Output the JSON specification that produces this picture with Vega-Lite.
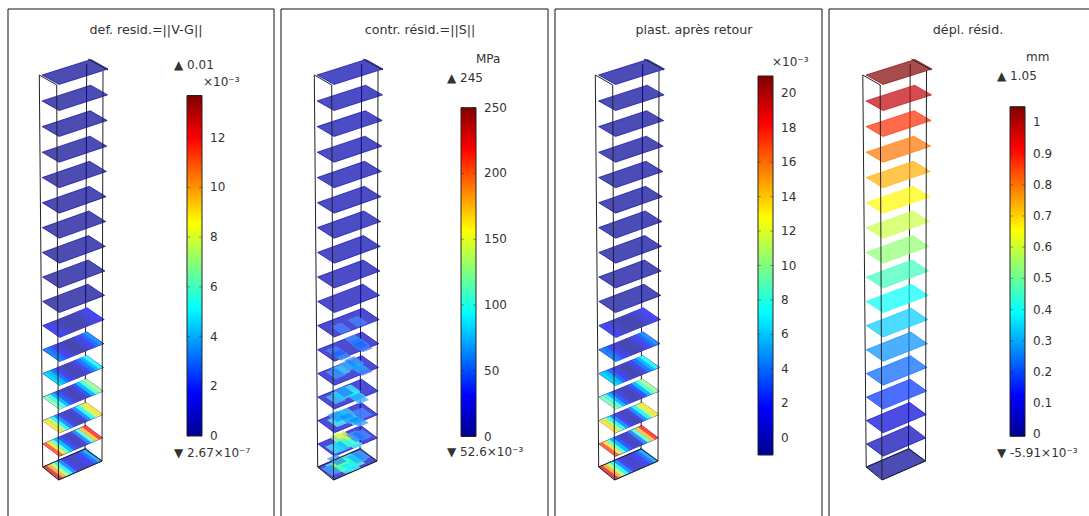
{"$schema":"https://vega.github.io/schema/vega-lite/v6.json","padding":{"left":7,"top":8,"right":0,"bottom":0},"autosize":{"type":"pad"},"background":"white","spacing":7,"bounds":"flush","resolve":{"scale":{"fill":"independent","stroke":"independent","shape":"independent"}},"config":{"view":{"stroke":null},"text":{"font":"DejaVu Sans"}},
"datasets":{
"slices":[{"slice":0,"def":0.05,"contr":8,"plast":-0.8,"depl":1.05},{"slice":1,"def":0.05,"contr":8,"plast":-0.8,"depl":0.98},{"slice":2,"def":0.05,"contr":8,"plast":-0.8,"depl":0.9},{"slice":3,"def":0.05,"contr":8,"plast":-0.8,"depl":0.81},{"slice":4,"def":0.05,"contr":8,"plast":-0.8,"depl":0.74},{"slice":5,"def":0.05,"contr":8,"plast":-0.8,"depl":0.66},{"slice":6,"def":0.05,"contr":8,"plast":-0.8,"depl":0.6},{"slice":7,"def":0.05,"contr":8,"plast":-0.8,"depl":0.54},{"slice":8,"def":0.05,"contr":10,"plast":-0.8,"depl":0.47},{"slice":9,"def":0.05,"contr":11,"plast":-0.8,"depl":0.4},{"slice":10,"def":0.05,"contr":13,"plast":-0.8,"depl":0.33},{"slice":11,"def":0.05,"contr":14,"plast":-0.8,"depl":0.27},{"slice":12,"def":0.05,"contr":15,"plast":-0.8,"depl":0.21},{"slice":13,"def":0.05,"contr":15,"plast":-0.8,"depl":0.15},{"slice":14,"def":0.05,"contr":16,"plast":-0.8,"depl":0.08},{"slice":15,"def":0.05,"contr":17,"plast":-0.8,"depl":0.04},{"slice":16,"def":0.05,"contr":17,"plast":-0.8,"depl":0}],
"strips":[
{"slice":10,"u":0.04,"def":1.6,"plast":1.6},{"slice":10,"u":0.13,"def":1.3,"plast":1.1},{"slice":10,"u":0.21,"def":0.8,"plast":0.3},{"slice":10,"u":0.29,"def":0.4,"plast":-0.4},{"slice":10,"u":0.38,"def":0.1,"plast":-0.8},{"slice":10,"u":0.46,"def":0.1,"plast":-0.8},{"slice":10,"u":0.54,"def":0.1,"plast":-0.8},{"slice":10,"u":0.63,"def":0.2,"plast":-0.7},{"slice":10,"u":0.71,"def":0.4,"plast":-0.4},{"slice":10,"u":0.79,"def":0.8,"plast":0.3},{"slice":10,"u":0.88,"def":1.2,"plast":0.9},{"slice":10,"u":0.96,"def":1.6,"plast":1.6},
{"slice":11,"u":0.04,"def":2.8,"plast":3.5},{"slice":11,"u":0.13,"def":2.4,"plast":2.9},{"slice":11,"u":0.21,"def":1.6,"plast":1.6},{"slice":11,"u":0.29,"def":1,"plast":0.6},{"slice":11,"u":0.38,"def":0.4,"plast":-0.4},{"slice":11,"u":0.46,"def":0.1,"plast":-0.8},{"slice":11,"u":0.54,"def":0.1,"plast":-0.8},{"slice":11,"u":0.63,"def":0.3,"plast":-0.5},{"slice":11,"u":0.71,"def":0.9,"plast":0.4},{"slice":11,"u":0.79,"def":1.6,"plast":1.6},{"slice":11,"u":0.88,"def":2.4,"plast":2.9},{"slice":11,"u":0.96,"def":3,"plast":3.8},
{"slice":12,"u":0.04,"def":4.5,"plast":6.2},{"slice":12,"u":0.13,"def":3.8,"plast":5.1},{"slice":12,"u":0.21,"def":2.5,"plast":3},{"slice":12,"u":0.29,"def":1.5,"plast":1.4},{"slice":12,"u":0.38,"def":0.7,"plast":0.1},{"slice":12,"u":0.46,"def":0.2,"plast":-0.7},{"slice":12,"u":0.54,"def":0.2,"plast":-0.7},{"slice":12,"u":0.63,"def":0.5,"plast":-0.2},{"slice":12,"u":0.71,"def":1.4,"plast":1.2},{"slice":12,"u":0.79,"def":2.6,"plast":3.2},{"slice":12,"u":0.88,"def":3.8,"plast":5.1},{"slice":12,"u":0.96,"def":5,"plast":7},
{"slice":13,"u":0.04,"def":6.5,"plast":9.4},{"slice":13,"u":0.13,"def":5.5,"plast":7.8},{"slice":13,"u":0.21,"def":3.8,"plast":5.1},{"slice":13,"u":0.29,"def":2.2,"plast":2.5},{"slice":13,"u":0.38,"def":1,"plast":0.6},{"slice":13,"u":0.46,"def":0.4,"plast":-0.4},{"slice":13,"u":0.54,"def":0.2,"plast":-0.7},{"slice":13,"u":0.63,"def":0.7,"plast":0.1},{"slice":13,"u":0.71,"def":2,"plast":2.2},{"slice":13,"u":0.79,"def":4,"plast":5.4},{"slice":13,"u":0.88,"def":5.8,"plast":8.3},{"slice":13,"u":0.96,"def":7,"plast":10.2},
{"slice":14,"u":0.04,"def":9,"plast":13.5},{"slice":14,"u":0.13,"def":7.5,"plast":11},{"slice":14,"u":0.21,"def":5,"plast":7},{"slice":14,"u":0.29,"def":3,"plast":3.8},{"slice":14,"u":0.38,"def":1.5,"plast":1.4},{"slice":14,"u":0.46,"def":0.5,"plast":-0.2},{"slice":14,"u":0.54,"def":0.3,"plast":-0.5},{"slice":14,"u":0.63,"def":1,"plast":0.6},{"slice":14,"u":0.71,"def":3,"plast":3.8},{"slice":14,"u":0.79,"def":5,"plast":7},{"slice":14,"u":0.88,"def":7.5,"plast":11},{"slice":14,"u":0.96,"def":9,"plast":13.5},
{"slice":15,"u":0.04,"def":11.5,"plast":17.5},{"slice":15,"u":0.13,"def":9,"plast":13.5},{"slice":15,"u":0.21,"def":6,"plast":8.6},{"slice":15,"u":0.29,"def":4,"plast":5.4},{"slice":15,"u":0.38,"def":2,"plast":2.2},{"slice":15,"u":0.46,"def":0.8,"plast":0.3},{"slice":15,"u":0.54,"def":0.3,"plast":-0.5},{"slice":15,"u":0.63,"def":0.8,"plast":0.3},{"slice":15,"u":0.71,"def":3,"plast":3.8},{"slice":15,"u":0.79,"def":6,"plast":8.6},{"slice":15,"u":0.88,"def":9.5,"plast":14.3},{"slice":15,"u":0.96,"def":12,"plast":18.3},
{"slice":16,"u":0.04,"def":12.5,"plast":19},{"slice":16,"u":0.13,"def":10,"plast":15},{"slice":16,"u":0.21,"def":7.5,"plast":11},{"slice":16,"u":0.29,"def":5,"plast":7},{"slice":16,"u":0.38,"def":3,"plast":3.8},{"slice":16,"u":0.46,"def":1.5,"plast":1.4},{"slice":16,"u":0.54,"def":0.6,"plast":0},{"slice":16,"u":0.63,"def":0.6,"plast":0},{"slice":16,"u":0.71,"def":1,"plast":0.6},{"slice":16,"u":0.79,"def":1.6,"plast":1.6},{"slice":16,"u":0.88,"def":2.6,"plast":3.2},{"slice":16,"u":0.96,"def":3.6,"plast":4.8}],
"blobs":[
{"x":54.2,"y":457.7,"contr":90},{"x":59.2,"y":452.7,"contr":130},{"x":59.2,"y":457.7,"contr":150},{"x":64.2,"y":454.3,"contr":120},{"x":64.2,"y":459.3,"contr":100},{"x":69.2,"y":449.3,"contr":90},{"x":74.2,"y":452.7,"contr":110},{"x":75.8,"y":449.3,"contr":70},{"x":70.8,"y":457.7,"contr":90},{"x":80.8,"y":446,"contr":60},{"x":50.8,"y":461,"contr":60},{"x":55.8,"y":451,"contr":60},
{"x":57.7,"y":429.2,"contr":135},{"x":62.7,"y":427.6,"contr":150},{"x":67.7,"y":432.6,"contr":145},{"x":62.7,"y":434.2,"contr":100},{"x":72.7,"y":434.2,"contr":95},{"x":59.4,"y":437.6,"contr":70},{"x":54.4,"y":439.2,"contr":85},{"x":74.4,"y":427.6,"contr":60},{"x":81,"y":425.9,"contr":50},
{"x":56.1,"y":412.6,"contr":90},{"x":61.1,"y":405.9,"contr":95},{"x":66.1,"y":404.3,"contr":70},{"x":72.8,"y":410.9,"contr":85},{"x":77.8,"y":412.6,"contr":60},{"x":56.1,"y":407.6,"contr":60},{"x":67.8,"y":409.3,"contr":65},{"x":81.1,"y":404.3,"contr":50},
{"x":69.7,"y":381.1,"contr":85},{"x":74.7,"y":386.1,"contr":90},{"x":78,"y":389.4,"contr":65},{"x":54.7,"y":389.4,"contr":70},{"x":59.7,"y":386.1,"contr":80},{"x":63,"y":382.8,"contr":55},
{"x":59.8,"y":361.2,"contr":75},{"x":54.8,"y":364.5,"contr":55},{"x":68.1,"y":356.2,"contr":65},{"x":73.1,"y":352.8,"contr":55},{"x":81.4,"y":361.2,"contr":50},{"x":76.4,"y":357.8,"contr":70},
{"x":60,"y":346,"contr":50},{"x":73.3,"y":331,"contr":50},{"x":78.3,"y":334.4,"contr":55},{"x":81.6,"y":337.7,"contr":45},{"x":55,"y":342.7,"contr":45},
{"x":76.7,"y":312.6,"contr":45},{"x":60.1,"y":319.3,"contr":45}],
"behind":[{"x":78.7,"y":55,"x2":77,"y2":440}],
"front":[{"x":31.3,"y":66,"x2":34.7,"y2":458},{"x":48.7,"y":76,"x2":50.5,"y2":471},{"x":95,"y":62,"x2":94,"y2":452},{"x":31.3,"y":66,"x2":48.7,"y2":76},{"x":34.7,"y":458,"x2":50.5,"y2":471},{"x":50.5,"y":471,"x2":94,"y2":452},{"x":94,"y":452,"x2":77,"y2":440},{"x":77,"y":440,"x2":34.7,"y2":458},{"x":80,"y":50,"x2":100,"y2":61}]
},
"hconcat":[
{"width":266,"height":508,"resolve":{"scale":{"x":"independent","y":"independent","shape":"independent","fill":"independent"}},"layer":[
{"data":{"values":[{"x":0,"y":0,"x2":0,"y2":508},{"x":0,"y":0,"x2":266,"y2":0},{"x":266,"y":0,"x2":266,"y2":508}]},"mark":{"type":"rule","color":"#111","strokeWidth":1},"encoding":{"x":{"field":"x","type":"quantitative","scale":{"domain":[0,266],"range":[0,266]},"axis":null},"x2":{"field":"x2"},"y":{"field":"y","type":"quantitative","scale":{"domain":[0,508],"range":[0,508]},"axis":null},"y2":{"field":"y2"}}},
{"data":{"name":"behind"},"mark":{"type":"rule","color":"#222","strokeWidth":1},"encoding":{"x":{"field":"x","type":"quantitative","scale":{"domain":[0,266],"range":[0,266]},"axis":null},"x2":{"field":"x2"},"y":{"field":"y","type":"quantitative","scale":{"domain":[0,507],"range":[0,507]},"axis":null},"y2":{"field":"y2"}}},
{"data":{"name":"slices"},"mark":{"type":"point","filled":true,"size":10000,"fillOpacity":0.7,"strokeOpacity":0.8,"strokeWidth":0.8},"encoding":{"x":{"field":"slice","type":"quantitative","scale":{"domain":[0,16],"range":[67,64.5]},"axis":null},"y":{"field":"slice","type":"quantitative","scale":{"domain":[0,1,2,3,4,5,6,7,8,9,10,11,12,13,14,15,16],"range":[63,88.9,114.6,140.2,165.5,190.7,215.6,240.4,265,289.4,313.6,337.7,361.5,385.1,408.6,431.9,455]},"axis":null},"shape":{"field":"slice","type":"nominal","legend":null,"scale":{"domain":[0,1,2,3,4,5,6,7,8,9,10,11,12,13,14,15,16],"range":["M-.66 .06L-.32 .25L.66 -.06L.32 -.25Z","M-.656 .06L-.316 .254L.656 -.06L.316 -.254Z","M-.651 .06L-.312 .258L.651 -.06L.312 -.258Z","M-.647 .06L-.309 .261L.647 -.06L.309 -.261Z","M-.642 .06L-.305 .265L.642 -.06L.305 -.265Z","M-.638 .06L-.301 .269L.638 -.06L.301 -.269Z","M-.634 .06L-.297 .273L.634 -.06L.297 -.273Z","M-.629 .06L-.293 .277L.629 -.06L.293 -.277Z","M-.625 .06L-.29 .28L.625 -.06L.29 -.28Z","M-.62 .06L-.286 .284L.62 -.06L.286 -.284Z","M-.616 .06L-.282 .288L.616 -.06L.282 -.288Z","M-.612 .06L-.278 .292L.612 -.06L.278 -.292Z","M-.607 .06L-.274 .296L.607 -.06L.274 -.296Z","M-.603 .06L-.271 .299L.603 -.06L.271 -.299Z","M-.598 .06L-.267 .303L.598 -.06L.267 -.303Z","M-.594 .06L-.263 .307L.594 -.06L.263 -.307Z","M-.59 .06L-.259 .311L.59 -.06L.259 -.311Z"]}},"fill":{"field":"def","type":"quantitative","scale":{"domain":[0,1.7125,3.425,5.1375,6.85,8.5625,10.275,11.9875,13.7],"range":["#00008f","#0000ff","#0080ff","#00ffff","#80ff80","#ffff00","#ff8000","#ff0000","#800000"]},"legend":null},"stroke":{"field":"def","type":"quantitative","scale":{"domain":[0,1.7125,3.425,5.1375,6.85,8.5625,10.275,11.9875,13.7],"range":["#00008f","#0000ff","#0080ff","#00ffff","#80ff80","#ffff00","#ff8000","#ff0000","#800000"]},"legend":null}}},
{"data":{"name":"strips"},"mark":{"type":"point","filled":true,"size":10000,"fillOpacity":1,"strokeWidth":0},"encoding":{"x":{"field":"slice","type":"quantitative","scale":{"domain":[0,16],"range":[67,64.5]},"axis":null},"y":{"field":"slice","type":"quantitative","scale":{"domain":[0,1,2,3,4,5,6,7,8,9,10,11,12,13,14,15,16],"range":[63,88.9,114.6,140.2,165.5,190.7,215.6,240.4,265,289.4,313.6,337.7,361.5,385.1,408.6,431.9,455]},"axis":null},"shape":{"field":"u","type":"nominal","legend":null,"scale":{"domain":[0.04,0.13,0.21,0.29,0.38,0.46,0.54,0.63,0.71,0.79,0.88,0.96],"range":["M-.603 .062L-.523 .028L-.191 .272L-.271 .306Z","M-.526 .03L-.446 -.004L-.114 .24L-.194 .274Z","M-.457 .001L-.377 -.033L-.045 .211L-.125 .245Z","M-.387 -.029L-.307 -.063L.025 .181L-.055 .215Z","M-.31 -.061L-.23 -.095L.102 .149L.022 .183Z","M-.241 -.09L-.161 -.124L.171 .12L.091 .154Z","M-.171 -.12L-.091 -.154L.241 .09L.161 .124Z","M-.094 -.152L-.014 -.186L.318 .058L.238 .092Z","M-.025 -.181L.055 -.215L.387 .029L.307 .063Z","M.045 -.211L.125 -.245L.457 -.001L.377 .033Z","M.122 -.243L.202 -.277L.534 -.033L.454 .001Z","M.191 -.272L.271 -.306L.603 -.062L.523 -.028Z"]}},"fill":{"field":"def","type":"quantitative","scale":{"domain":[0,1.7125,3.425,5.1375,6.85,8.5625,10.275,11.9875,13.7],"range":["#4747ae","#4747ff","#47a3ff","#47ffff","#a3ffa3","#ffff47","#ffa347","#ff4747","#a34747"]},"legend":null}}},
{"data":{"name":"front"},"mark":{"type":"rule","color":"#222","strokeWidth":1},"encoding":{"x":{"field":"x","type":"quantitative","scale":{"domain":[0,266],"range":[0,266]},"axis":null},"x2":{"field":"x2"},"y":{"field":"y","type":"quantitative","scale":{"domain":[0,507],"range":[0,507]},"axis":null},"y2":{"field":"y2"}}},
{"data":{"values":[{"lo":0,"hi":13.7,"x":179,"x2":194}]},"mark":{"type":"rect","stroke":"#222","strokeWidth":1,"fill":{"x1":0,"y1":1,"x2":0,"y2":0,"gradient":"linear","stops":[{"offset":0,"color":"#00008f"},{"offset":0.125,"color":"#0000ff"},{"offset":0.25,"color":"#0080ff"},{"offset":0.375,"color":"#00ffff"},{"offset":0.5,"color":"#80ff80"},{"offset":0.625,"color":"#ffff00"},{"offset":0.75,"color":"#ff8000"},{"offset":0.875,"color":"#ff0000"},{"offset":1,"color":"#800000"}]}},"encoding":{"x":{"field":"x","type":"quantitative","scale":{"domain":[0,266],"range":[0,266]},"axis":null},"x2":{"field":"x2"},"y":{"field":"lo","type":"quantitative","scale":{"domain":[0,13.7],"range":[427,86.5]},"axis":null},"y2":{"field":"hi"}}},
{"data":{"values":[{"value":0,"bar":186.5,"lab":202},{"value":2,"bar":186.5,"lab":202},{"value":4,"bar":186.5,"lab":202},{"value":6,"bar":186.5,"lab":202},{"value":8,"bar":186.5,"lab":202},{"value":10,"bar":186.5,"lab":202},{"value":12,"bar":186.5,"lab":202}]},"mark":{"type":"point","filled":false,"size":225,"shape":"M-1 0H-.6M.6 0H1","stroke":"#222","strokeWidth":1,"strokeOpacity":0.55},"encoding":{"x":{"field":"bar","type":"quantitative","scale":{"domain":[0,266],"range":[0,266]},"axis":null},"y":{"field":"value","type":"quantitative","scale":{"domain":[0,13.7],"range":[427,86.5]},"axis":null}}},
{"data":{"values":[{"value":0,"lab":202},{"value":2,"lab":202},{"value":4,"lab":202},{"value":6,"lab":202},{"value":8,"lab":202},{"value":10,"lab":202},{"value":12,"lab":202}]},"mark":{"type":"text","fontSize":12,"color":"#333","align":"left","font":"DejaVu Sans"},"encoding":{"text":{"field":"value","format":"d"},"x":{"field":"lab","type":"quantitative","scale":{"domain":[0,266],"range":[0,266]},"axis":null},"y":{"field":"value","type":"quantitative","scale":{"domain":[0,13.7],"range":[427,86.5]},"axis":null}}},
{"data":{"values":[{"t":"def. resid.=||V-G||","x":138,"y":21}]},"mark":{"type":"text","fontSize":12.7,"color":"#333","align":"center","font":"DejaVu Sans"},"encoding":{"text":{"field":"t"},"x":{"field":"x","type":"quantitative","scale":{"domain":[0,266],"range":[0,266]},"axis":null},"y":{"field":"y","type":"quantitative","scale":{"domain":[0,507],"range":[0,507]},"axis":null}}},
{"data":{"values":[{"t":"▲ 0.01","x":166,"y":56},{"t":"×10⁻³","x":195,"y":73},{"t":"▼ 2.67×10⁻⁷","x":166,"y":444}]},"mark":{"type":"text","fontSize":12,"color":"#333","align":"left","font":"DejaVu Sans"},"encoding":{"text":{"field":"t"},"x":{"field":"x","type":"quantitative","scale":{"domain":[0,266],"range":[0,266]},"axis":null},"y":{"field":"y","type":"quantitative","scale":{"domain":[0,507],"range":[0,507]},"axis":null}}}
]},
{"width":267,"height":508,"resolve":{"scale":{"x":"independent","y":"independent","shape":"independent"}},"layer":[
{"data":{"values":[{"x":0,"y":0,"x2":0,"y2":508},{"x":0,"y":0,"x2":267,"y2":0},{"x":267,"y":0,"x2":267,"y2":508}]},"mark":{"type":"rule","color":"#111","strokeWidth":1},"encoding":{"x":{"field":"x","type":"quantitative","scale":{"domain":[0,267],"range":[0,267]},"axis":null},"x2":{"field":"x2"},"y":{"field":"y","type":"quantitative","scale":{"domain":[0,508],"range":[0,508]},"axis":null},"y2":{"field":"y2"}}},
{"data":{"name":"behind"},"mark":{"type":"rule","color":"#222","strokeWidth":1},"encoding":{"x":{"field":"x","type":"quantitative","scale":{"domain":[0,266],"range":[2,268]},"axis":null},"x2":{"field":"x2"},"y":{"field":"y","type":"quantitative","scale":{"domain":[0,507],"range":[0,507]},"axis":null},"y2":{"field":"y2"}}},
{"data":{"name":"slices"},"mark":{"type":"point","filled":true,"size":10000,"fillOpacity":0.7,"strokeOpacity":0.8,"strokeWidth":0.8},"encoding":{"x":{"field":"slice","type":"quantitative","scale":{"domain":[0,16],"range":[69,66.5]},"axis":null},"y":{"field":"slice","type":"quantitative","scale":{"domain":[0,1,2,3,4,5,6,7,8,9,10,11,12,13,14,15,16],"range":[63,88.9,114.6,140.2,165.5,190.7,215.6,240.4,265,289.4,313.6,337.7,361.5,385.1,408.6,431.9,455]},"axis":null},"shape":{"field":"slice","type":"nominal","legend":null,"scale":{"domain":[0,1,2,3,4,5,6,7,8,9,10,11,12,13,14,15,16],"range":["M-.66 .06L-.32 .25L.66 -.06L.32 -.25Z","M-.656 .06L-.316 .254L.656 -.06L.316 -.254Z","M-.651 .06L-.312 .258L.651 -.06L.312 -.258Z","M-.647 .06L-.309 .261L.647 -.06L.309 -.261Z","M-.642 .06L-.305 .265L.642 -.06L.305 -.265Z","M-.638 .06L-.301 .269L.638 -.06L.301 -.269Z","M-.634 .06L-.297 .273L.634 -.06L.297 -.273Z","M-.629 .06L-.293 .277L.629 -.06L.293 -.277Z","M-.625 .06L-.29 .28L.625 -.06L.29 -.28Z","M-.62 .06L-.286 .284L.62 -.06L.286 -.284Z","M-.616 .06L-.282 .288L.616 -.06L.282 -.288Z","M-.612 .06L-.278 .292L.612 -.06L.278 -.292Z","M-.607 .06L-.274 .296L.607 -.06L.274 -.296Z","M-.603 .06L-.271 .299L.603 -.06L.271 -.299Z","M-.598 .06L-.267 .303L.598 -.06L.267 -.303Z","M-.594 .06L-.263 .307L.594 -.06L.263 -.307Z","M-.59 .06L-.259 .311L.59 -.06L.259 -.311Z"]}},"fill":{"field":"contr","type":"quantitative","scale":{"domain":[0,31.25,62.5,93.75,125,156.25,187.5,218.75,250],"range":["#00008f","#0000ff","#0080ff","#00ffff","#80ff80","#ffff00","#ff8000","#ff0000","#800000"]},"legend":null},"stroke":{"field":"contr","type":"quantitative","scale":{"domain":[0,31.25,62.5,93.75,125,156.25,187.5,218.75,250],"range":["#00008f","#0000ff","#0080ff","#00ffff","#80ff80","#ffff00","#ff8000","#ff0000","#800000"]},"legend":null}}},
{"data":{"name":"blobs"},"mark":{"type":"point","filled":true,"size":10000,"fill":"white","fillOpacity":0.55,"strokeWidth":0,"shape":"M-.2 -.03L0 -.11L.2 .03L0 .11Z"},"encoding":{"x":{"field":"x","type":"quantitative","scale":{"domain":[0,267],"range":[0,267]},"axis":null},"y":{"field":"y","type":"quantitative","scale":{"domain":[0,507],"range":[0,507]},"axis":null}}},
{"data":{"name":"blobs"},"mark":{"type":"point","filled":true,"size":10000,"fillOpacity":0.6,"strokeWidth":0,"shape":"M-.2 -.03L0 -.11L.2 .03L0 .11Z"},"encoding":{"x":{"field":"x","type":"quantitative","scale":{"domain":[0,267],"range":[0,267]},"axis":null},"y":{"field":"y","type":"quantitative","scale":{"domain":[0,507],"range":[0,507]},"axis":null},"fill":{"field":"contr","type":"quantitative","scale":{"domain":[0,31.25,62.5,93.75,125,156.25,187.5,218.75,250],"range":["#00008f","#0000ff","#0080ff","#00ffff","#80ff80","#ffff00","#ff8000","#ff0000","#800000"]},"legend":null}}},
{"data":{"name":"front"},"mark":{"type":"rule","color":"#222","strokeWidth":1},"encoding":{"x":{"field":"x","type":"quantitative","scale":{"domain":[0,266],"range":[2,268]},"axis":null},"x2":{"field":"x2"},"y":{"field":"y","type":"quantitative","scale":{"domain":[0,507],"range":[0,507]},"axis":null},"y2":{"field":"y2"}}},
{"data":{"values":[{"lo":0,"hi":250,"x":180,"x2":195}]},"mark":{"type":"rect","stroke":"#222","strokeWidth":1,"fill":{"x1":0,"y1":1,"x2":0,"y2":0,"gradient":"linear","stops":[{"offset":0,"color":"#00008f"},{"offset":0.125,"color":"#0000ff"},{"offset":0.25,"color":"#0080ff"},{"offset":0.375,"color":"#00ffff"},{"offset":0.5,"color":"#80ff80"},{"offset":0.625,"color":"#ffff00"},{"offset":0.75,"color":"#ff8000"},{"offset":0.875,"color":"#ff0000"},{"offset":1,"color":"#800000"}]}},"encoding":{"x":{"field":"x","type":"quantitative","scale":{"domain":[0,267],"range":[0,267]},"axis":null},"x2":{"field":"x2"},"y":{"field":"lo","type":"quantitative","scale":{"domain":[0,250],"range":[427.5,98.7]},"axis":null},"y2":{"field":"hi"}}},
{"data":{"values":[{"value":0,"bar":187.5},{"value":50,"bar":187.5},{"value":100,"bar":187.5},{"value":150,"bar":187.5},{"value":200,"bar":187.5},{"value":250,"bar":187.5}]},"mark":{"type":"point","filled":false,"size":225,"shape":"M-1 0H-.6M.6 0H1","stroke":"#222","strokeWidth":1,"strokeOpacity":0.55},"encoding":{"x":{"field":"bar","type":"quantitative","scale":{"domain":[0,267],"range":[0,267]},"axis":null},"y":{"field":"value","type":"quantitative","scale":{"domain":[0,250],"range":[427.5,98.7]},"axis":null}}},
{"data":{"values":[{"value":0,"lab":203},{"value":50,"lab":203},{"value":100,"lab":203},{"value":150,"lab":203},{"value":200,"lab":203},{"value":250,"lab":203}]},"mark":{"type":"text","fontSize":12,"color":"#333","align":"left","font":"DejaVu Sans"},"encoding":{"text":{"field":"value","format":"d"},"x":{"field":"lab","type":"quantitative","scale":{"domain":[0,267],"range":[0,267]},"axis":null},"y":{"field":"value","type":"quantitative","scale":{"domain":[0,250],"range":[427.5,98.7]},"axis":null}}},
{"data":{"values":[{"t":"contr. résid.=||S||","x":139,"y":21}]},"mark":{"type":"text","fontSize":12.7,"color":"#333","align":"center","font":"DejaVu Sans"},"encoding":{"text":{"field":"t"},"x":{"field":"x","type":"quantitative","scale":{"domain":[0,267],"range":[0,267]},"axis":null},"y":{"field":"y","type":"quantitative","scale":{"domain":[0,507],"range":[0,507]},"axis":null}}},
{"data":{"values":[{"t":"MPa","x":195,"y":50},{"t":"▲ 245","x":166,"y":69},{"t":"▼ 52.6×10⁻³","x":166,"y":443}]},"mark":{"type":"text","fontSize":12,"color":"#333","align":"left","font":"DejaVu Sans"},"encoding":{"text":{"field":"t"},"x":{"field":"x","type":"quantitative","scale":{"domain":[0,267],"range":[0,267]},"axis":null},"y":{"field":"y","type":"quantitative","scale":{"domain":[0,507],"range":[0,507]},"axis":null}}}
]},
{"width":267,"height":508,"resolve":{"scale":{"x":"independent","y":"independent","shape":"independent","fill":"independent"}},"layer":[
{"data":{"values":[{"x":0,"y":0,"x2":0,"y2":508},{"x":0,"y":0,"x2":267,"y2":0},{"x":267,"y":0,"x2":267,"y2":508}]},"mark":{"type":"rule","color":"#111","strokeWidth":1},"encoding":{"x":{"field":"x","type":"quantitative","scale":{"domain":[0,267],"range":[0,267]},"axis":null},"x2":{"field":"x2"},"y":{"field":"y","type":"quantitative","scale":{"domain":[0,508],"range":[0,508]},"axis":null},"y2":{"field":"y2"}}},
{"data":{"name":"behind"},"mark":{"type":"rule","color":"#222","strokeWidth":1},"encoding":{"x":{"field":"x","type":"quantitative","scale":{"domain":[0,266],"range":[9,275]},"axis":null},"x2":{"field":"x2"},"y":{"field":"y","type":"quantitative","scale":{"domain":[0,507],"range":[0,507]},"axis":null},"y2":{"field":"y2"}}},
{"data":{"name":"slices"},"mark":{"type":"point","filled":true,"size":10000,"fillOpacity":0.7,"strokeOpacity":0.8,"strokeWidth":0.8},"encoding":{"x":{"field":"slice","type":"quantitative","scale":{"domain":[0,16],"range":[76.5,73.5]},"axis":null},"y":{"field":"slice","type":"quantitative","scale":{"domain":[0,1,2,3,4,5,6,7,8,9,10,11,12,13,14,15,16],"range":[63,88.9,114.6,140.2,165.5,190.7,215.6,240.4,265,289.4,313.6,337.7,361.5,385.1,408.6,431.9,455]},"axis":null},"shape":{"field":"slice","type":"nominal","legend":null,"scale":{"domain":[0,1,2,3,4,5,6,7,8,9,10,11,12,13,14,15,16],"range":["M-.66 .06L-.32 .25L.66 -.06L.32 -.25Z","M-.656 .06L-.316 .254L.656 -.06L.316 -.254Z","M-.651 .06L-.312 .258L.651 -.06L.312 -.258Z","M-.647 .06L-.309 .261L.647 -.06L.309 -.261Z","M-.642 .06L-.305 .265L.642 -.06L.305 -.265Z","M-.638 .06L-.301 .269L.638 -.06L.301 -.269Z","M-.634 .06L-.297 .273L.634 -.06L.297 -.273Z","M-.629 .06L-.293 .277L.629 -.06L.293 -.277Z","M-.625 .06L-.29 .28L.625 -.06L.29 -.28Z","M-.62 .06L-.286 .284L.62 -.06L.286 -.284Z","M-.616 .06L-.282 .288L.616 -.06L.282 -.288Z","M-.612 .06L-.278 .292L.612 -.06L.278 -.292Z","M-.607 .06L-.274 .296L.607 -.06L.274 -.296Z","M-.603 .06L-.271 .299L.603 -.06L.271 -.299Z","M-.598 .06L-.267 .303L.598 -.06L.267 -.303Z","M-.594 .06L-.263 .307L.594 -.06L.263 -.307Z","M-.59 .06L-.259 .311L.59 -.06L.259 -.311Z"]}},"fill":{"field":"plast","type":"quantitative","scale":{"domain":[-1,1.75,4.5,7.25,10,12.75,15.5,18.25,21],"range":["#00008f","#0000ff","#0080ff","#00ffff","#80ff80","#ffff00","#ff8000","#ff0000","#800000"]},"legend":null},"stroke":{"field":"plast","type":"quantitative","scale":{"domain":[-1,1.75,4.5,7.25,10,12.75,15.5,18.25,21],"range":["#00008f","#0000ff","#0080ff","#00ffff","#80ff80","#ffff00","#ff8000","#ff0000","#800000"]},"legend":null}}},
{"data":{"name":"strips"},"mark":{"type":"point","filled":true,"size":10000,"fillOpacity":1,"strokeWidth":0},"encoding":{"x":{"field":"slice","type":"quantitative","scale":{"domain":[0,16],"range":[76.5,73.5]},"axis":null},"y":{"field":"slice","type":"quantitative","scale":{"domain":[0,1,2,3,4,5,6,7,8,9,10,11,12,13,14,15,16],"range":[63,88.9,114.6,140.2,165.5,190.7,215.6,240.4,265,289.4,313.6,337.7,361.5,385.1,408.6,431.9,455]},"axis":null},"shape":{"field":"u","type":"nominal","legend":null,"scale":{"domain":[0.04,0.13,0.21,0.29,0.38,0.46,0.54,0.63,0.71,0.79,0.88,0.96],"range":["M-.603 .062L-.523 .028L-.191 .272L-.271 .306Z","M-.526 .03L-.446 -.004L-.114 .24L-.194 .274Z","M-.457 .001L-.377 -.033L-.045 .211L-.125 .245Z","M-.387 -.029L-.307 -.063L.025 .181L-.055 .215Z","M-.31 -.061L-.23 -.095L.102 .149L.022 .183Z","M-.241 -.09L-.161 -.124L.171 .12L.091 .154Z","M-.171 -.12L-.091 -.154L.241 .09L.161 .124Z","M-.094 -.152L-.014 -.186L.318 .058L.238 .092Z","M-.025 -.181L.055 -.215L.387 .029L.307 .063Z","M.045 -.211L.125 -.245L.457 -.001L.377 .033Z","M.122 -.243L.202 -.277L.534 -.033L.454 .001Z","M.191 -.272L.271 -.306L.603 -.062L.523 -.028Z"]}},"fill":{"field":"plast","type":"quantitative","scale":{"domain":[-1,1.75,4.5,7.25,10,12.75,15.5,18.25,21],"range":["#4747ae","#4747ff","#47a3ff","#47ffff","#a3ffa3","#ffff47","#ffa347","#ff4747","#a34747"]},"legend":null}}},
{"data":{"name":"front"},"mark":{"type":"rule","color":"#222","strokeWidth":1},"encoding":{"x":{"field":"x","type":"quantitative","scale":{"domain":[0,266],"range":[9,275]},"axis":null},"x2":{"field":"x2"},"y":{"field":"y","type":"quantitative","scale":{"domain":[0,507],"range":[0,507]},"axis":null},"y2":{"field":"y2"}}},
{"data":{"values":[{"lo":-1,"hi":21,"x":203,"x2":218}]},"mark":{"type":"rect","stroke":"#222","strokeWidth":1,"fill":{"x1":0,"y1":1,"x2":0,"y2":0,"gradient":"linear","stops":[{"offset":0,"color":"#00008f"},{"offset":0.125,"color":"#0000ff"},{"offset":0.25,"color":"#0080ff"},{"offset":0.375,"color":"#00ffff"},{"offset":0.5,"color":"#80ff80"},{"offset":0.625,"color":"#ffff00"},{"offset":0.75,"color":"#ff8000"},{"offset":0.875,"color":"#ff0000"},{"offset":1,"color":"#800000"}]}},"encoding":{"x":{"field":"x","type":"quantitative","scale":{"domain":[0,267],"range":[0,267]},"axis":null},"x2":{"field":"x2"},"y":{"field":"lo","type":"quantitative","scale":{"domain":[-1,21],"range":[446,67]},"axis":null},"y2":{"field":"hi"}}},
{"data":{"values":[{"value":0,"bar":210.5},{"value":2,"bar":210.5},{"value":4,"bar":210.5},{"value":6,"bar":210.5},{"value":8,"bar":210.5},{"value":10,"bar":210.5},{"value":12,"bar":210.5},{"value":14,"bar":210.5},{"value":16,"bar":210.5},{"value":18,"bar":210.5},{"value":20,"bar":210.5}]},"mark":{"type":"point","filled":false,"size":225,"shape":"M-1 0H-.6M.6 0H1","stroke":"#222","strokeWidth":1,"strokeOpacity":0.55},"encoding":{"x":{"field":"bar","type":"quantitative","scale":{"domain":[0,267],"range":[0,267]},"axis":null},"y":{"field":"value","type":"quantitative","scale":{"domain":[-1,21],"range":[446,67]},"axis":null}}},
{"data":{"values":[{"value":0,"lab":226},{"value":2,"lab":226},{"value":4,"lab":226},{"value":6,"lab":226},{"value":8,"lab":226},{"value":10,"lab":226},{"value":12,"lab":226},{"value":14,"lab":226},{"value":16,"lab":226},{"value":18,"lab":226},{"value":20,"lab":226}]},"mark":{"type":"text","fontSize":12,"color":"#333","align":"left","font":"DejaVu Sans"},"encoding":{"text":{"field":"value","format":"d"},"x":{"field":"lab","type":"quantitative","scale":{"domain":[0,267],"range":[0,267]},"axis":null},"y":{"field":"value","type":"quantitative","scale":{"domain":[-1,21],"range":[446,67]},"axis":null}}},
{"data":{"values":[{"t":"plast. après retour","x":139,"y":21}]},"mark":{"type":"text","fontSize":12.7,"color":"#333","align":"center","font":"DejaVu Sans"},"encoding":{"text":{"field":"t"},"x":{"field":"x","type":"quantitative","scale":{"domain":[0,267],"range":[0,267]},"axis":null},"y":{"field":"y","type":"quantitative","scale":{"domain":[0,507],"range":[0,507]},"axis":null}}},
{"data":{"values":[{"t":"×10⁻³","x":217,"y":53}]},"mark":{"type":"text","fontSize":12,"color":"#333","align":"left","font":"DejaVu Sans"},"encoding":{"text":{"field":"t"},"x":{"field":"x","type":"quantitative","scale":{"domain":[0,267],"range":[0,267]},"axis":null},"y":{"field":"y","type":"quantitative","scale":{"domain":[0,507],"range":[0,507]},"axis":null}}}
]},
{"width":260,"height":508,"resolve":{"scale":{"x":"independent","y":"independent","shape":"independent"}},"layer":[
{"data":{"values":[{"x":0,"y":0,"x2":0,"y2":508},{"x":0,"y":0,"x2":260,"y2":0}]},"mark":{"type":"rule","color":"#111","strokeWidth":1},"encoding":{"x":{"field":"x","type":"quantitative","scale":{"domain":[0,260],"range":[0,260]},"axis":null},"x2":{"field":"x2"},"y":{"field":"y","type":"quantitative","scale":{"domain":[0,508],"range":[0,508]},"axis":null},"y2":{"field":"y2"}}},
{"data":{"name":"behind"},"mark":{"type":"rule","color":"#222","strokeWidth":1},"encoding":{"x":{"field":"x","type":"quantitative","scale":{"domain":[0,266],"range":[2.5,268.5]},"axis":null},"x2":{"field":"x2"},"y":{"field":"y","type":"quantitative","scale":{"domain":[0,507],"range":[0,507]},"axis":null},"y2":{"field":"y2"}}},
{"data":{"name":"slices"},"mark":{"type":"point","filled":true,"size":10000,"fillOpacity":0.7,"strokeOpacity":0.8,"strokeWidth":0.8},"encoding":{"x":{"field":"slice","type":"quantitative","scale":{"domain":[0,16],"range":[70,67]},"axis":null},"y":{"field":"slice","type":"quantitative","scale":{"domain":[0,1,2,3,4,5,6,7,8,9,10,11,12,13,14,15,16],"range":[63,88.9,114.6,140.2,165.5,190.7,215.6,240.4,265,289.4,313.6,337.7,361.5,385.1,408.6,431.9,455]},"axis":null},"shape":{"field":"slice","type":"nominal","legend":null,"scale":{"domain":[0,1,2,3,4,5,6,7,8,9,10,11,12,13,14,15,16],"range":["M-.66 .06L-.32 .25L.66 -.06L.32 -.25Z","M-.656 .06L-.316 .254L.656 -.06L.316 -.254Z","M-.651 .06L-.312 .258L.651 -.06L.312 -.258Z","M-.647 .06L-.309 .261L.647 -.06L.309 -.261Z","M-.642 .06L-.305 .265L.642 -.06L.305 -.265Z","M-.638 .06L-.301 .269L.638 -.06L.301 -.269Z","M-.634 .06L-.297 .273L.634 -.06L.297 -.273Z","M-.629 .06L-.293 .277L.629 -.06L.293 -.277Z","M-.625 .06L-.29 .28L.625 -.06L.29 -.28Z","M-.62 .06L-.286 .284L.62 -.06L.286 -.284Z","M-.616 .06L-.282 .288L.616 -.06L.282 -.288Z","M-.612 .06L-.278 .292L.612 -.06L.278 -.292Z","M-.607 .06L-.274 .296L.607 -.06L.274 -.296Z","M-.603 .06L-.271 .299L.603 -.06L.271 -.299Z","M-.598 .06L-.267 .303L.598 -.06L.267 -.303Z","M-.594 .06L-.263 .307L.594 -.06L.263 -.307Z","M-.59 .06L-.259 .311L.59 -.06L.259 -.311Z"]}},"fill":{"field":"depl","type":"quantitative","scale":{"domain":[-0.00591,0.12608,0.25807,0.39006,0.52205,0.65404,0.78602,0.91801,1.05],"range":["#00008f","#0000ff","#0080ff","#00ffff","#80ff80","#ffff00","#ff8000","#ff0000","#800000"]},"legend":null},"stroke":{"field":"depl","type":"quantitative","scale":{"domain":[-0.00591,0.12608,0.25807,0.39006,0.52205,0.65404,0.78602,0.91801,1.05],"range":["#00008f","#0000ff","#0080ff","#00ffff","#80ff80","#ffff00","#ff8000","#ff0000","#800000"]},"legend":null}}},
{"data":{"name":"front"},"mark":{"type":"rule","color":"#222","strokeWidth":1},"encoding":{"x":{"field":"x","type":"quantitative","scale":{"domain":[0,266],"range":[2.5,268.5]},"axis":null},"x2":{"field":"x2"},"y":{"field":"y","type":"quantitative","scale":{"domain":[0,507],"range":[0,507]},"axis":null},"y2":{"field":"y2"}}},
{"data":{"values":[{"lo":-0.00591,"hi":1.05,"x":181,"x2":196}]},"mark":{"type":"rect","stroke":"#222","strokeWidth":1,"fill":{"x1":0,"y1":1,"x2":0,"y2":0,"gradient":"linear","stops":[{"offset":0,"color":"#00008f"},{"offset":0.125,"color":"#0000ff"},{"offset":0.25,"color":"#0080ff"},{"offset":0.375,"color":"#00ffff"},{"offset":0.5,"color":"#80ff80"},{"offset":0.625,"color":"#ffff00"},{"offset":0.75,"color":"#ff8000"},{"offset":0.875,"color":"#ff0000"},{"offset":1,"color":"#800000"}]}},"encoding":{"x":{"field":"x","type":"quantitative","scale":{"domain":[0,260],"range":[0,260]},"axis":null},"x2":{"field":"x2"},"y":{"field":"lo","type":"quantitative","scale":{"domain":[-0.00591,1.05],"range":[427.3,97.7]},"axis":null},"y2":{"field":"hi"}}},
{"data":{"values":[{"value":0,"bar":188.5},{"value":0.1,"bar":188.5},{"value":0.2,"bar":188.5},{"value":0.3,"bar":188.5},{"value":0.4,"bar":188.5},{"value":0.5,"bar":188.5},{"value":0.6,"bar":188.5},{"value":0.7,"bar":188.5},{"value":0.8,"bar":188.5},{"value":0.9,"bar":188.5},{"value":1,"bar":188.5}]},"mark":{"type":"point","filled":false,"size":225,"shape":"M-1 0H-.6M.6 0H1","stroke":"#222","strokeWidth":1,"strokeOpacity":0.55},"encoding":{"x":{"field":"bar","type":"quantitative","scale":{"domain":[0,260],"range":[0,260]},"axis":null},"y":{"field":"value","type":"quantitative","scale":{"domain":[-0.00591,1.05],"range":[427.3,97.7]},"axis":null}}},
{"data":{"values":[{"value":0,"lab":204},{"value":0.1,"lab":204},{"value":0.2,"lab":204},{"value":0.3,"lab":204},{"value":0.4,"lab":204},{"value":0.5,"lab":204},{"value":0.6,"lab":204},{"value":0.7,"lab":204},{"value":0.8,"lab":204},{"value":0.9,"lab":204},{"value":1,"lab":204}]},"mark":{"type":"text","fontSize":12,"color":"#333","align":"left","font":"DejaVu Sans"},"encoding":{"text":{"field":"value","format":".1~f"},"x":{"field":"lab","type":"quantitative","scale":{"domain":[0,260],"range":[0,260]},"axis":null},"y":{"field":"value","type":"quantitative","scale":{"domain":[-0.00591,1.05],"range":[427.3,97.7]},"axis":null}}},
{"data":{"values":[{"t":"dépl. résid.","x":139,"y":21}]},"mark":{"type":"text","fontSize":12.7,"color":"#333","align":"center","font":"DejaVu Sans"},"encoding":{"text":{"field":"t"},"x":{"field":"x","type":"quantitative","scale":{"domain":[0,260],"range":[0,260]},"axis":null},"y":{"field":"y","type":"quantitative","scale":{"domain":[0,507],"range":[0,507]},"axis":null}}},
{"data":{"values":[{"t":"mm","x":197,"y":48},{"t":"▲ 1.05","x":168,"y":67},{"t":"▼ -5.91×10⁻³","x":168,"y":444}]},"mark":{"type":"text","fontSize":12,"color":"#333","align":"left","font":"DejaVu Sans"},"encoding":{"text":{"field":"t"},"x":{"field":"x","type":"quantitative","scale":{"domain":[0,260],"range":[0,260]},"axis":null},"y":{"field":"y","type":"quantitative","scale":{"domain":[0,507],"range":[0,507]},"axis":null}}}
]}
]}
